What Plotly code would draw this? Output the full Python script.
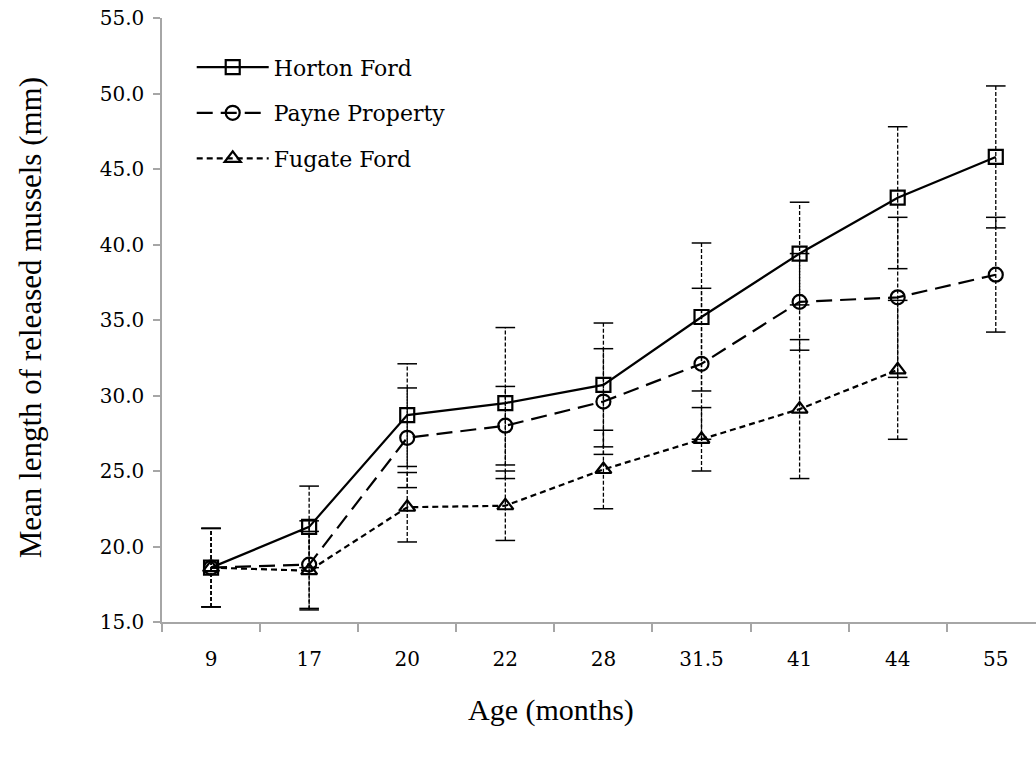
import plotly.graph_objects as go

# Age classes (months) at release
ages = ["9", "17", "20", "22", "28", "31.5", "41", "44", "55"]

# Mean shell length (mm) and error (± mm) for each site
horton_mean = [18.6, 21.3, 28.7, 29.5, 30.7, 35.2, 39.4, 43.1, 45.8]
horton_err = [2.6, 2.7, 3.4, 5.0, 4.1, 4.9, 3.4, 4.7, 4.7]

payne_mean = [18.6, 18.8, 27.2, 28.0, 29.6, 32.1, 36.2, 36.5, 38.0]
payne_err = [2.6, 2.9, 3.3, 2.6, 3.5, 5.0, 3.2, 5.3, 3.8]

fugate_mean = [18.6, 18.4, 22.6, 22.7, 25.1, 27.1, 29.1, 31.7, None]
fugate_err = [2.6, 2.6, 2.3, 2.3, 2.6, 2.1, 4.6, 4.6, None]

y_ticks = [15, 20, 25, 30, 35, 40, 45, 50, 55]

series = [
    ("Horton Ford", horton_mean, horton_err, "solid", "square-open"),
    ("Payne Property", payne_mean, payne_err, "16px,8px", "circle-open"),
    ("Fugate Ford", fugate_mean, fugate_err, "6px,4px", "triangle-up-open"),
]

fig = go.Figure()

# Dashed error whiskers with flat caps
for name, means, errs, _, _ in series:
    wx, wy, cx, cy = [], [], [], []
    for a, m, e in zip(ages, means, errs):
        if m is None:
            continue
        wx += [a, a, None]
        wy += [m - e, m + e, None]
        cx += [a, a]
        cy += [m - e, m + e]
    fig.add_trace(go.Scatter(
        x=wx, y=wy, mode="lines", showlegend=False, hoverinfo="skip",
        line=dict(color="black", width=1.3, dash="4px,2px"),
    ))
    fig.add_trace(go.Scatter(
        x=cx, y=cy, mode="markers", showlegend=False, hoverinfo="skip",
        marker=dict(symbol="line-ew", size=14, line=dict(color="black", width=1.5)),
    ))

# Site means
for name, means, errs, dash, symbol in series:
    xs = [a for a, m in zip(ages, means) if m is not None]
    ys = [m for m in means if m is not None]
    fig.add_trace(go.Scatter(
        x=xs, y=ys, mode="lines+markers", name=name, legendgroup=name,
        line=dict(color="black", width=2.2, dash=dash),
        marker=dict(symbol=symbol, size=14, color="black",
                    line=dict(color="black", width=2.2)),
    ))

axis_grey = "#a6a6a6"
tick_font = dict(family="DejaVu Serif", size=20, color="black")
title_font = dict(family="Liberation Serif", size=30, color="black")

fig.update_layout(
    width=1036, height=757,
    margin=dict(l=162, r=0, t=18, b=135),
    paper_bgcolor="white", plot_bgcolor="white",
    showlegend=True,
    legend=dict(
        x=0.034, y=0.953, xanchor="left", yanchor="top",
        bgcolor="rgba(0,0,0,0)", font=dict(family="DejaVu Serif", size=22, color="black"),
        tracegroupgap=14, traceorder="grouped", itemwidth=72,
    ),
    xaxis=dict(
        type="category", categoryorder="array", categoryarray=ages,
        range=[-0.5, 8.41], showline=True, linecolor=axis_grey, linewidth=1.5,
        ticks="outside", tickson="boundaries", ticklen=8, tickcolor=axis_grey,
        tickwidth=1.5, showgrid=False, zeroline=False, tickfont=tick_font,
        ticklabelstandoff=18,
    ),
    yaxis=dict(
        range=[15, 55], tickvals=y_ticks, tickformat=".1f",
        showline=True, linecolor=axis_grey, linewidth=1.5,
        ticks="outside", ticklen=7, tickcolor=axis_grey, tickwidth=1.5,
        showgrid=False, zeroline=False, tickfont=tick_font, ticklabelstandoff=5,
    ),
    annotations=[
        dict(text="Mean length of released mussels (mm)", textangle=-90,
             xref="paper", yref="paper", x=-0.151, y=0.503,
             xanchor="center", yanchor="middle", showarrow=False,
             font=dict(family="Liberation Serif", size=31, color="black")),
        dict(text="Age (months)", xref="paper", yref="paper", x=0.445, y=-0.1457,
             xanchor="center", yanchor="middle", showarrow=False, font=title_font),
    ],
)

fig.write_html("out.html")
